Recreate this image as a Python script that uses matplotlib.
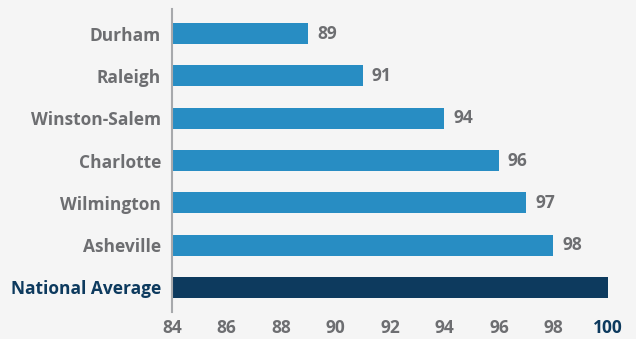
import matplotlib.pyplot as plt

# data
cities = ["Durham", "Raleigh", "Winston-Salem", "Charlotte", "Wilmington", "Asheville", "National Average"]
values = [89, 91, 94, 96, 97, 98, 100]
ticks = [84, 86, 88, 90, 92, 94, 96, 98, 100]

bg = "#f5f5f5"
blue = "#288dc3"
navy = "#0d3a5e"
gray = "#6d6e71"

plt.rcParams["font.family"] = ["Open Sans", "DejaVu Sans"]

fig = plt.figure(figsize=(6.36, 3.39), dpi=100, facecolor=bg)
ax = fig.add_axes([172 / 636, 27 / 339, 1 - 172 / 636, 303 / 339], facecolor=bg)

ypos = list(range(len(cities)))
colors = [blue] * (len(cities) - 1) + [navy]
ax.barh(ypos, values, height=0.5, color=colors, left=0)

for y, v, name in zip(ypos, values, cities):
    if name != "National Average":
        ax.text(v + 0.33, y, str(v), va="center", ha="left", fontsize=12.5,
                fontweight="bold", color=gray)

x0 = 84.07
ax.set_xlim(x0, x0 + 464 / 27.36)
ax.set_ylim(6.58, -0.58)

ax.set_yticks(ypos)
ax.set_yticklabels(cities, fontsize=12.5, fontweight="bold", color=gray)
ax.get_yticklabels()[-1].set_color(navy)
ax.set_xticks(ticks)
ax.set_xticklabels([str(t) for t in ticks], fontsize=12.5, fontweight="bold", color=gray)
ax.get_xticklabels()[-1].set_color(navy)

ax.tick_params(axis="both", length=0)
ax.tick_params(axis="y", pad=8)
ax.tick_params(axis="x", pad=5)
for s in ["top", "right", "bottom"]:
    ax.spines[s].set_visible(False)
ax.spines["left"].set_color("#a7a9ac")
ax.spines["left"].set_linewidth(1.5)

fig.savefig("out.png", dpi=100, facecolor=bg)
